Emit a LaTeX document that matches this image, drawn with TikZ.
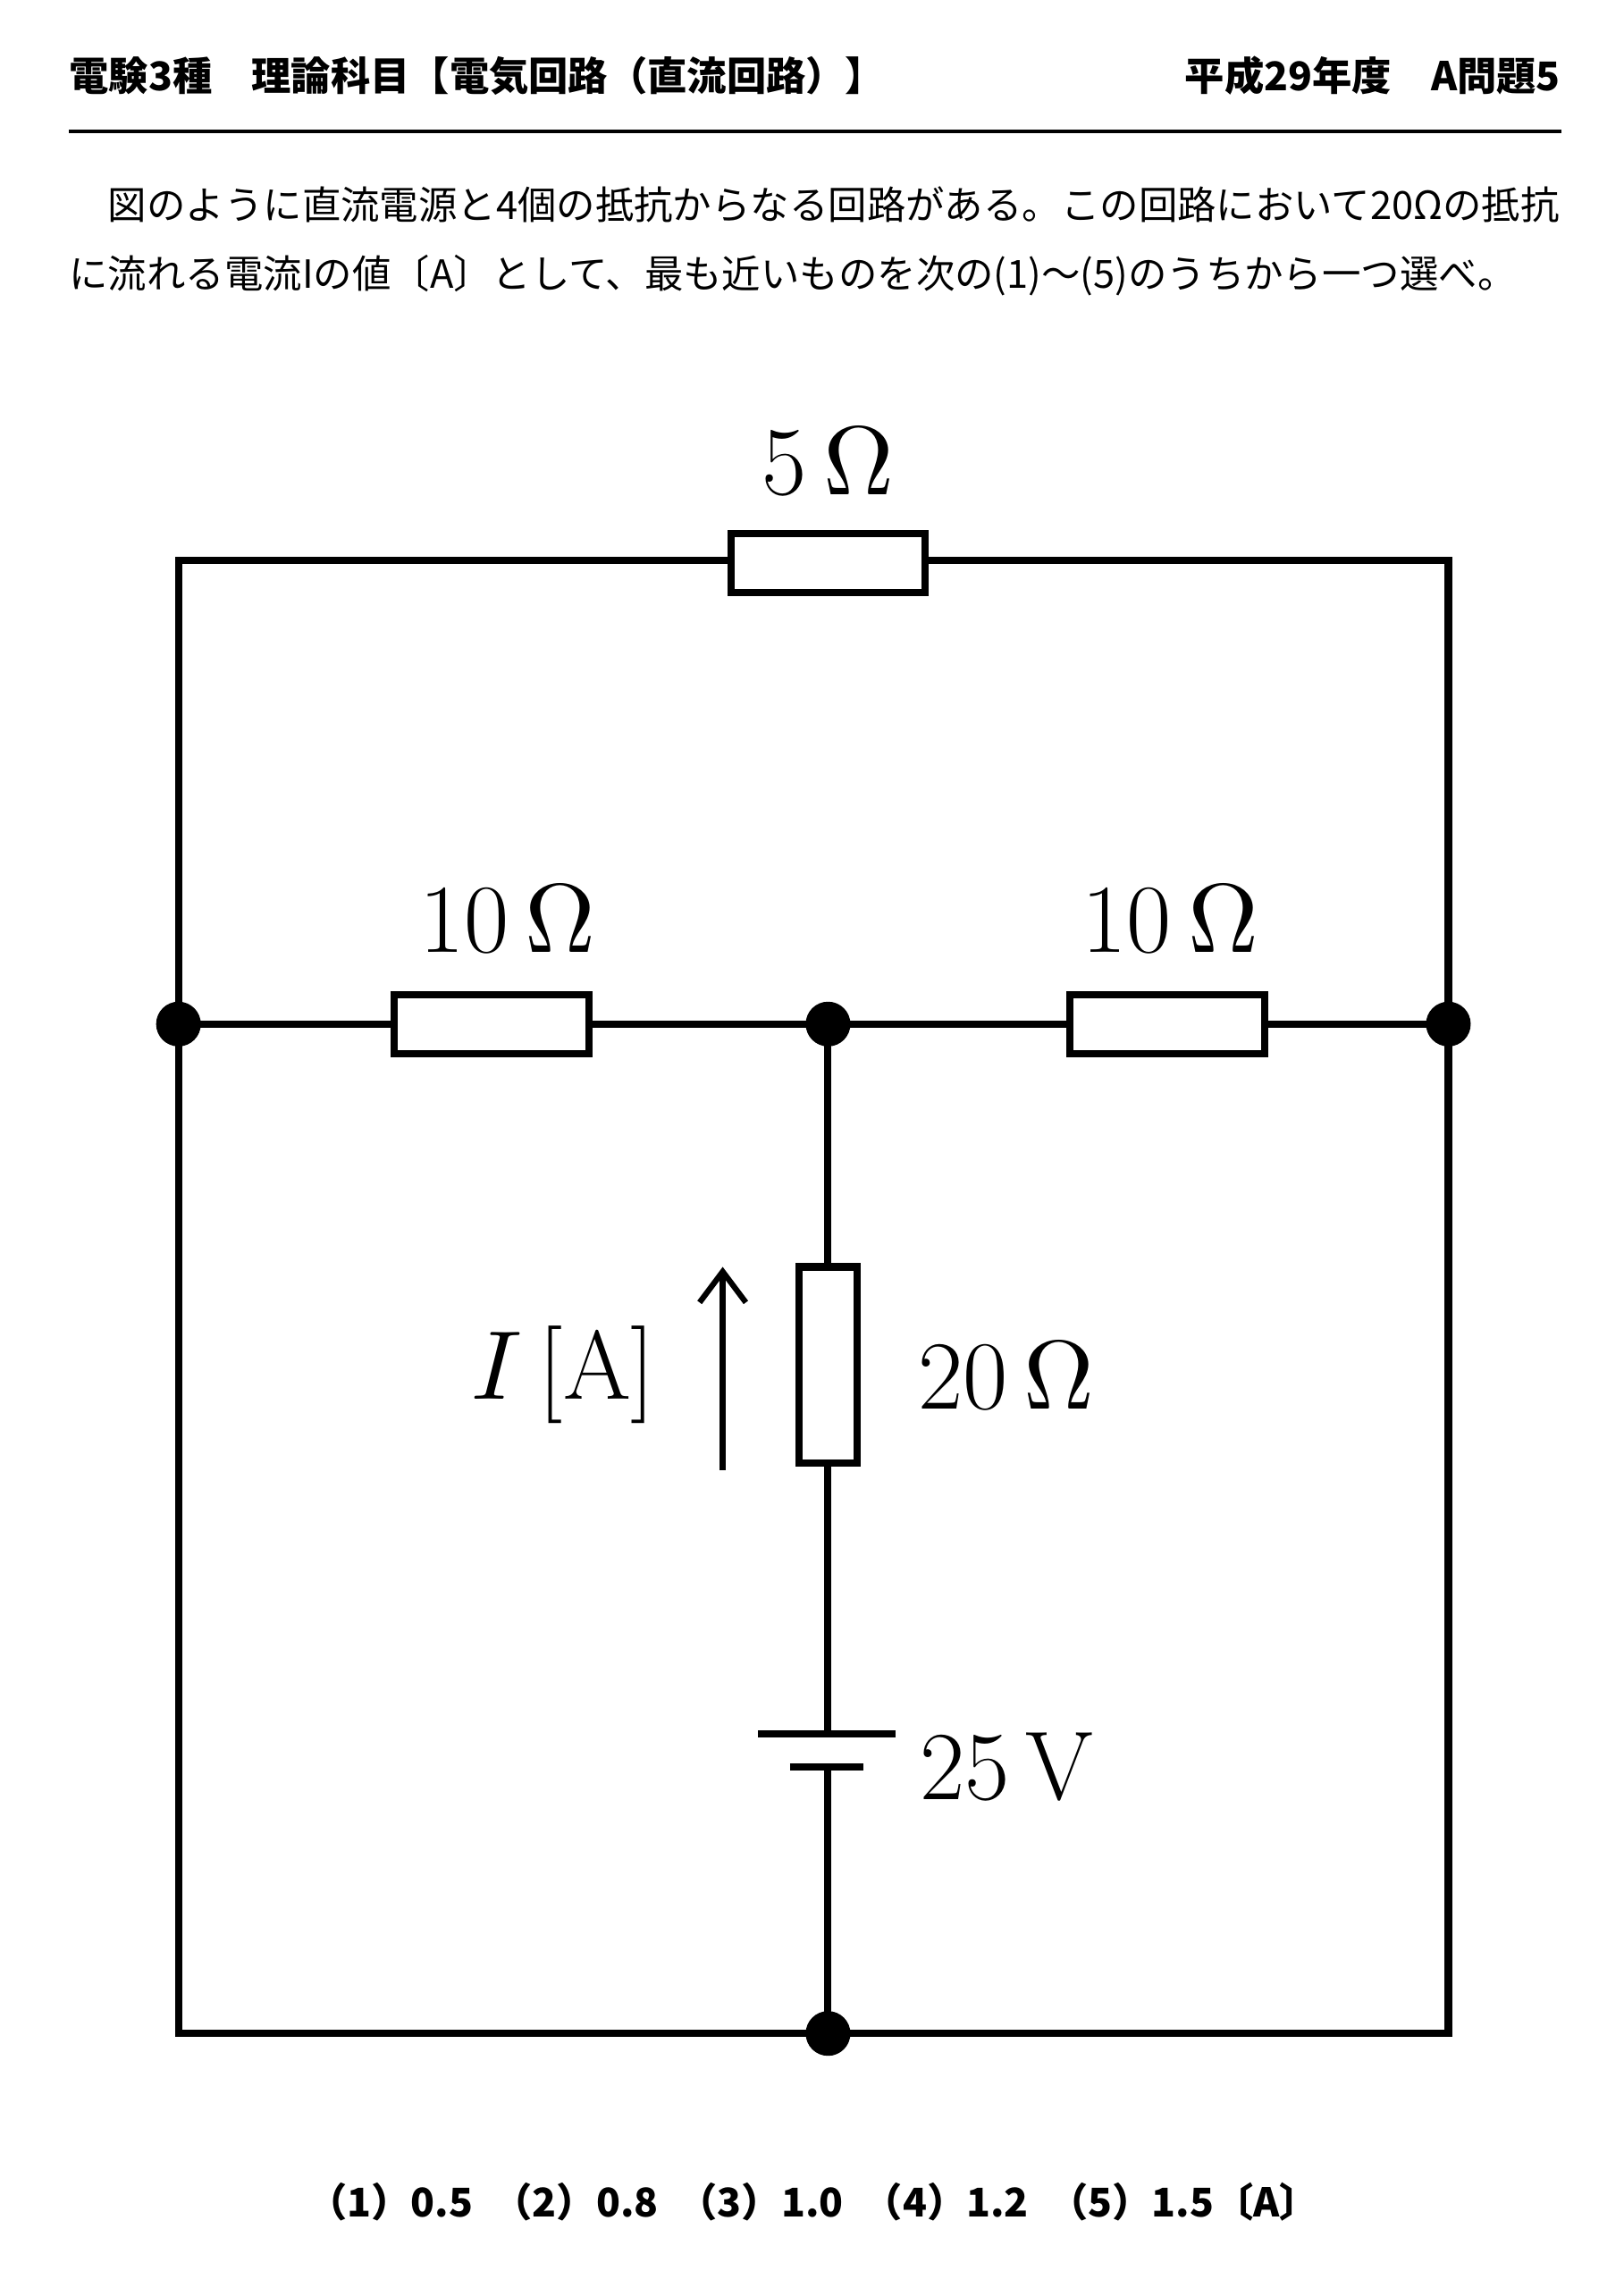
\documentclass[tikz,border=0pt]{standalone}
\usepackage{unicode-math}
\newfontfamily\jp{Noto Sans CJK JP}
\usetikzlibrary{positioning,arrows.meta}
\tikzstyle{none}=[inner sep=0pt]
\tikzstyle{dot}=[circle,fill=black,draw,inner sep=0pt,minimum size=17pt]
\tikzstyle{resh}=[draw,line width=2.8pt,fill=white,minimum width=133*0.02cm,minimum height=40*0.02cm,inner sep=0pt]
\tikzstyle{resv}=[draw,line width=2.8pt,fill=white,minimum width=40*0.02cm,minimum height=134*0.02cm,inner sep=0pt]
\tikzstyle{val}=[inner sep=0pt,font=\fontsize{38}{42}\selectfont]
\tikzstyle{wire}=[line width=2.8pt]
\begin{document}
\begin{tikzpicture}[x=0.02cm,y=-0.02cm]
	\useasboundingbox (0,0) rectangle (1110,1564);
	% header
	\node [none,anchor=west,font=\jp\bfseries\fontsize{15.4}{18}\selectfont] (h1) at (47,52) {電験3種　理論科目【電気回路（直流回路）】};
	\node [none,anchor=east,font=\jp\bfseries\fontsize{15.4}{18}\selectfont] (h2) at (1067,52) {平成29年度　A問題5};
	\draw [line width=1.5pt] (47,90) -- (1067,90);
	\node [none,anchor=west,font=\jp\fontsize{15.1}{18}\selectfont] (t1) at (47,140) {　図のように直流電源と4個の抵抗からなる回路がある。この回路において20Ωの抵抗};
	\node [none,anchor=west,font=\jp\fontsize{15.1}{18}\selectfont] (t2) at (47,188) {に流れる電流Iの値〔A〕として、最も近いものを次の(1)～(5)のうちから一つ選べ。};
	% corners and junctions
	\node [none] (tl) at (122,383) {};
	\node [none] (tr) at (990,383) {};
	\node [none] (bl) at (122,1390) {};
	\node [none] (br) at (990,1390) {};
	\node [dot] (nl) at (122,700) {};
	\node [dot] (nc) at (566,700) {};
	\node [dot] (nr) at (990,700) {};
	\node [dot] (nb) at (566,1390) {};
	\node [none] (p1) at (566,1185) {};
	\node [none] (p2) at (566,1208) {};
	% wires
	\draw [wire] (nl.center) -- (tl.center) -- (tr.center) -- (nr.center) -- (br.center) -- (bl.center) -- (nl.center) -- (nr.center);
	\draw [wire] (nc.center) -- (p1.center);
	\draw [wire] (p2.center) -- (nb.center);
	% battery
	\draw [wire] (518,1185) -- (612,1185);
	\draw [wire] (540,1208) -- (590,1208);
	% resistors
	\node [resh] (r5) at (566,385) {};
	\node [resh] (r10a) at (336,700) {};
	\node [resh] (r10b) at (798,700) {};
	\node [resv] (r20) at (566,933) {};
	% labels
	\node [val] (l5) at (566,315) {5\,$\Omega$};
	\node [val] (l10a) at (347,628) {10\,$\Omega$};
	\node [val] (l10b) at (800,628) {10\,$\Omega$};
	\node [val] (l20) at (688,940) {20\,$\Omega$};
	\node [val] (l25) at (688,1208) {25\,V};
	\node [val] (li) at (385,940) {$I$\,[A]};
	\node [none] (a1) at (494,1005) {};
	\node [none] (a2) at (494,866) {};
	\draw [line width=2.2pt,-{Straight Barb[length=12pt,width=18pt]}] (a1.center) -- (a2.center);
	% answers
	\node [none,font=\jp\bfseries\fontsize{15.4}{18}\selectfont] (ans) at (556,1505) {（1）0.5\hspace{0.5em}（2）0.8\hspace{0.5em}（3）1.0\hspace{0.5em}（4）1.2\hspace{0.5em}（5）1.5〔A〕};
\end{tikzpicture}
\end{document}
